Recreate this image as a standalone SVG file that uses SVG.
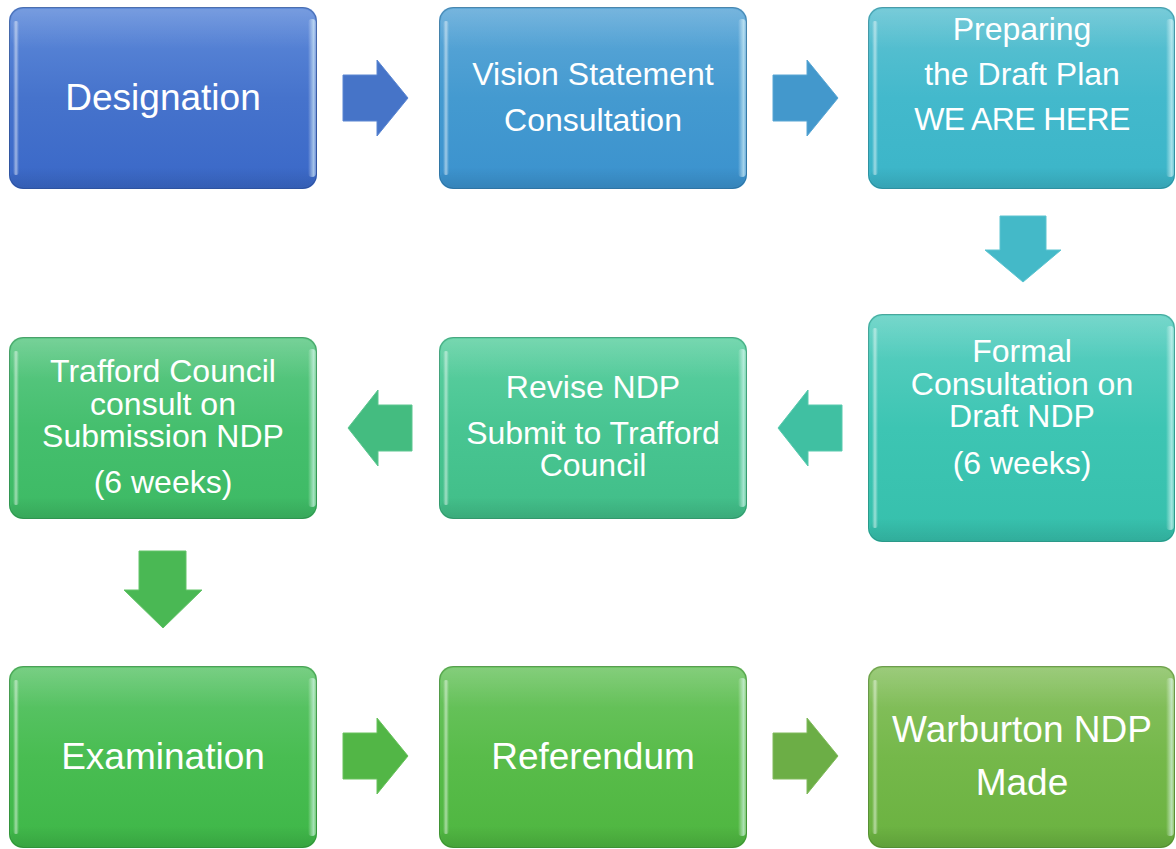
<svg xmlns="http://www.w3.org/2000/svg" width="1176" height="849" viewBox="0 0 1176 849">
  <style>
    .lbl { font-family: "Liberation Sans", Arial, sans-serif; fill: #ffffff; text-anchor: middle; }
    .big { font-size: 37px; }
    .med { font-size: 32px; }
    .edge { fill: none; stroke: #000; stroke-opacity: 0.2; stroke-width: 1; }
    .arrow { stroke-width: 1; stroke-linejoin: miter; }
  </style>
  <defs>
    <!-- vertical body gradients, one per step colour -->
    <linearGradient id="g1" x1="0" y1="0" x2="0" y2="1"><stop offset="0" stop-color="#5f8bda"/><stop offset="0.5" stop-color="#4673cc"/><stop offset="1" stop-color="#3a68c8"/></linearGradient>
    <linearGradient id="g2" x1="0" y1="0" x2="0" y2="1"><stop offset="0" stop-color="#5ea8d8"/><stop offset="0.5" stop-color="#449ad0"/><stop offset="1" stop-color="#3b92ce"/></linearGradient>
    <linearGradient id="g3" x1="0" y1="0" x2="0" y2="1"><stop offset="0" stop-color="#60c2d2"/><stop offset="0.5" stop-color="#43b9cc"/><stop offset="1" stop-color="#3bb5c8"/></linearGradient>
    <linearGradient id="g4" x1="0" y1="0" x2="0" y2="1"><stop offset="0" stop-color="#5ed0c2"/><stop offset="0.5" stop-color="#3dc5b3"/><stop offset="1" stop-color="#36c0ac"/></linearGradient>
    <linearGradient id="g5" x1="0" y1="0" x2="0" y2="1"><stop offset="0" stop-color="#5ed0a2"/><stop offset="0.5" stop-color="#48c592"/><stop offset="1" stop-color="#41be88"/></linearGradient>
    <linearGradient id="g6" x1="0" y1="0" x2="0" y2="1"><stop offset="0" stop-color="#5ec986"/><stop offset="0.5" stop-color="#45bf6e"/><stop offset="1" stop-color="#3dba64"/></linearGradient>
    <linearGradient id="g7" x1="0" y1="0" x2="0" y2="1"><stop offset="0" stop-color="#60c66e"/><stop offset="0.5" stop-color="#49bd52"/><stop offset="1" stop-color="#3eb748"/></linearGradient>
    <linearGradient id="g8" x1="0" y1="0" x2="0" y2="1"><stop offset="0" stop-color="#6ec564"/><stop offset="0.5" stop-color="#59bc4a"/><stop offset="1" stop-color="#4eb640"/></linearGradient>
    <linearGradient id="g9" x1="0" y1="0" x2="0" y2="1"><stop offset="0" stop-color="#8ac264"/><stop offset="0.5" stop-color="#75b84a"/><stop offset="1" stop-color="#6ab240"/></linearGradient>
    <!-- bevel highlights -->
    <linearGradient id="hlLeft" x1="0" y1="0" x2="1" y2="0"><stop offset="0" stop-color="#fff" stop-opacity="0"/><stop offset="0.5" stop-color="#fff" stop-opacity="0.5"/><stop offset="1" stop-color="#fff" stop-opacity="0"/></linearGradient>
    <linearGradient id="hlRight" x1="0" y1="0" x2="1" y2="0"><stop offset="0" stop-color="#fff" stop-opacity="0"/><stop offset="0.7" stop-color="#e8ffff" stop-opacity="0.6"/><stop offset="1" stop-color="#fff" stop-opacity="0.25"/></linearGradient>
    <linearGradient id="hlTop" x1="0" y1="0" x2="0" y2="1"><stop offset="0" stop-color="#fff" stop-opacity="0.15"/><stop offset="1" stop-color="#fff" stop-opacity="0"/></linearGradient>
    <linearGradient id="shBottom" x1="0" y1="0" x2="0" y2="1"><stop offset="0" stop-color="#000" stop-opacity="0"/><stop offset="1" stop-color="#000" stop-opacity="0.1"/></linearGradient>
  </defs>

  <!-- connectors: block arrows between steps -->
  <g id="connectors">
    <polygon class="arrow" fill="#4674c8" stroke="#5a86d2" points="343,75 377,75 377,60 408,98 377,136 377,121 343,121"/>
    <polygon class="arrow" fill="#4398cc" stroke="#58a6d4" points="773,75 807,75 807,60 838,98 807,136 807,121 773,121"/>
    <polygon class="arrow" fill="#44b9c8" stroke="#5cc4d0" points="1000,216 1046,216 1046,250 1061,250 1023,282 985,250 1000,250"/>
    <polygon class="arrow" fill="#40c0a2" stroke="#58caae" points="842,405 808,405 808,390 778,428 808,466 808,451 842,451"/>
    <polygon class="arrow" fill="#44bc80" stroke="#5cc690" points="412,405 378,405 378,390 348,428 378,466 378,451 412,451"/>
    <polygon class="arrow" fill="#4ab854" stroke="#62c468" points="139,551 186,551 186,590 202,590 163,628 124,590 139,590"/>
    <polygon class="arrow" fill="#52b646" stroke="#68c25c" points="343,733 377,733 377,718 408,756 377,794 377,779 343,779"/>
    <polygon class="arrow" fill="#6cae46" stroke="#80ba5c" points="773,733 807,733 807,718 838,756 807,794 807,779 773,779"/>
  </g>

  <!-- step 1 -->
  <g id="designation" transform="translate(9,7)">
    <rect width="308" height="182" rx="14" fill="url(#g1)"/>
    <rect x="2" y="2" width="304" height="40" rx="12" fill="url(#hlTop)"/>
    <rect x="2" y="160" width="304" height="21" rx="12" fill="url(#shBottom)"/>
    <rect x="4" y="14" width="6" height="154" rx="3" fill="url(#hlLeft)"/>
    <rect x="299" y="12" width="8" height="158" rx="4" fill="url(#hlRight)"/>
    <rect x="0.5" y="0.5" width="307" height="181" rx="14" class="edge"/>
    <text class="lbl big" x="154" y="103">Designation</text>
  </g>

  <!-- step 2 -->
  <g id="vision" transform="translate(439,7)">
    <rect width="308" height="182" rx="14" fill="url(#g2)"/>
    <rect x="2" y="2" width="304" height="40" rx="12" fill="url(#hlTop)"/>
    <rect x="2" y="160" width="304" height="21" rx="12" fill="url(#shBottom)"/>
    <rect x="4" y="14" width="6" height="154" rx="3" fill="url(#hlLeft)"/>
    <rect x="299" y="12" width="8" height="158" rx="4" fill="url(#hlRight)"/>
    <rect x="0.5" y="0.5" width="307" height="181" rx="14" class="edge"/>
    <text class="lbl med" x="154" y="78">Vision Statement</text>
    <text class="lbl med" x="154" y="124">Consultation</text>
  </g>

  <!-- step 3 -->
  <g id="draft-plan" transform="translate(868,7)">
    <rect width="307" height="182" rx="14" fill="url(#g3)"/>
    <rect x="2" y="2" width="303" height="40" rx="12" fill="url(#hlTop)"/>
    <rect x="2" y="160" width="303" height="21" rx="12" fill="url(#shBottom)"/>
    <rect x="4" y="14" width="6" height="154" rx="3" fill="url(#hlLeft)"/>
    <rect x="298" y="12" width="8" height="158" rx="4" fill="url(#hlRight)"/>
    <rect x="0.5" y="0.5" width="306" height="181" rx="14" class="edge"/>
    <text class="lbl med" x="154" y="33">Preparing</text>
    <text class="lbl med" x="154" y="78">the Draft Plan</text>
    <text class="lbl med" x="154" y="123" letter-spacing="-0.6">WE ARE HERE</text>
  </g>

  <!-- step 4 -->
  <g id="formal-consultation" transform="translate(868,314)">
    <rect width="307" height="228" rx="14" fill="url(#g4)"/>
    <rect x="2" y="2" width="303" height="44" rx="12" fill="url(#hlTop)"/>
    <rect x="2" y="204" width="303" height="23" rx="12" fill="url(#shBottom)"/>
    <rect x="4" y="14" width="6" height="200" rx="3" fill="url(#hlLeft)"/>
    <rect x="298" y="12" width="8" height="204" rx="4" fill="url(#hlRight)"/>
    <rect x="0.5" y="0.5" width="306" height="227" rx="14" class="edge"/>
    <text class="lbl med" x="154" y="48">Formal</text>
    <text class="lbl med" x="154" y="81">Consultation on</text>
    <text class="lbl med" x="154" y="113">Draft NDP</text>
    <text class="lbl med" x="154" y="160">(6 weeks)</text>
  </g>

  <!-- step 5 -->
  <g id="revise" transform="translate(439,337)">
    <rect width="308" height="182" rx="14" fill="url(#g5)"/>
    <rect x="2" y="2" width="304" height="40" rx="12" fill="url(#hlTop)"/>
    <rect x="2" y="160" width="304" height="21" rx="12" fill="url(#shBottom)"/>
    <rect x="4" y="14" width="6" height="154" rx="3" fill="url(#hlLeft)"/>
    <rect x="299" y="12" width="8" height="158" rx="4" fill="url(#hlRight)"/>
    <rect x="0.5" y="0.5" width="307" height="181" rx="14" class="edge"/>
    <text class="lbl med" x="154" y="61">Revise NDP</text>
    <text class="lbl med" x="154" y="107">Submit to Trafford</text>
    <text class="lbl med" x="154" y="139">Council</text>
  </g>

  <!-- step 6 -->
  <g id="trafford-consult" transform="translate(9,337)">
    <rect width="308" height="182" rx="14" fill="url(#g6)"/>
    <rect x="2" y="2" width="304" height="40" rx="12" fill="url(#hlTop)"/>
    <rect x="2" y="160" width="304" height="21" rx="12" fill="url(#shBottom)"/>
    <rect x="4" y="14" width="6" height="154" rx="3" fill="url(#hlLeft)"/>
    <rect x="299" y="12" width="8" height="158" rx="4" fill="url(#hlRight)"/>
    <rect x="0.5" y="0.5" width="307" height="181" rx="14" class="edge"/>
    <text class="lbl med" x="154" y="45">Trafford Council</text>
    <text class="lbl med" x="154" y="78">consult on</text>
    <text class="lbl med" x="154" y="110">Submission NDP</text>
    <text class="lbl med" x="154" y="156">(6 weeks)</text>
  </g>

  <!-- step 7 -->
  <g id="examination" transform="translate(9,666)">
    <rect width="308" height="182" rx="14" fill="url(#g7)"/>
    <rect x="2" y="2" width="304" height="40" rx="12" fill="url(#hlTop)"/>
    <rect x="2" y="160" width="304" height="21" rx="12" fill="url(#shBottom)"/>
    <rect x="4" y="14" width="6" height="154" rx="3" fill="url(#hlLeft)"/>
    <rect x="299" y="12" width="8" height="158" rx="4" fill="url(#hlRight)"/>
    <rect x="0.5" y="0.5" width="307" height="181" rx="14" class="edge"/>
    <text class="lbl big" x="154" y="103">Examination</text>
  </g>

  <!-- step 8 -->
  <g id="referendum" transform="translate(439,666)">
    <rect width="308" height="182" rx="14" fill="url(#g8)"/>
    <rect x="2" y="2" width="304" height="40" rx="12" fill="url(#hlTop)"/>
    <rect x="2" y="160" width="304" height="21" rx="12" fill="url(#shBottom)"/>
    <rect x="4" y="14" width="6" height="154" rx="3" fill="url(#hlLeft)"/>
    <rect x="299" y="12" width="8" height="158" rx="4" fill="url(#hlRight)"/>
    <rect x="0.5" y="0.5" width="307" height="181" rx="14" class="edge"/>
    <text class="lbl big" x="154" y="103">Referendum</text>
  </g>

  <!-- step 9 -->
  <g id="made" transform="translate(868,666)">
    <rect width="307" height="182" rx="14" fill="url(#g9)"/>
    <rect x="2" y="2" width="303" height="40" rx="12" fill="url(#hlTop)"/>
    <rect x="2" y="160" width="303" height="21" rx="12" fill="url(#shBottom)"/>
    <rect x="4" y="14" width="6" height="154" rx="3" fill="url(#hlLeft)"/>
    <rect x="298" y="12" width="8" height="158" rx="4" fill="url(#hlRight)"/>
    <rect x="0.5" y="0.5" width="306" height="181" rx="14" class="edge"/>
    <text class="lbl big" x="154" y="76">Warburton NDP</text>
    <text class="lbl big" x="154" y="129">Made</text>
  </g>
</svg>
